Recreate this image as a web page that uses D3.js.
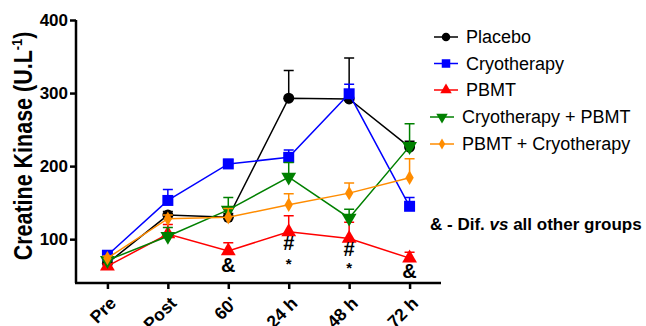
<!DOCTYPE html>
<html>
<head>
<meta charset="utf-8">
<script src="https://cdn.jsdelivr.net/npm/d3@7"></script>
<style>
  body { margin: 0; background: #fff; }
  svg { font-family: "Liberation Sans", Arial, sans-serif; }
</style>
</head>
<body>
<div id="chart"></div>
<script>
// time points
var categories = ["Pre", "Post", "60'", "24 h", "48 h", "72 h"];
var yTicks = [100, 200, 300, 400];

// group means (U.L-1)
var placebo = [67, 133, 130, 293, 292, 226];
var cryotherapy = [78, 153, 203, 212, 299, 145];
var pbmt = [63, 107, 84, 110, 101, 74];
var cryoPbmt = [71, 104, 140, 185, 129, 227];
var pbmtCryo = [74, 128, 130, 147, 163, 184];

// upper error bars
var placeboErr = [3, 5, 5, 38, 56, 8];
var cryotherapyErr = [2, 15, 6, 10, 13, 12];
var pbmtErr = [3, 13, 11, 22, 22, 8];
var cryoPbmtErr = [3, 12, 17, 20, 12, 31];
var pbmtCryoErr = [3, 5, 12, 15, 14, 26];

var seriesNames = ["Placebo", "Cryotherapy", "PBMT", "Cryotherapy + PBMT", "PBMT + Cryotherapy"];

// significance marks under the PBMT line
var marks = [
  { cat: "60'", text: "&", dy: 16, size: 20 },
  { cat: "24 h", text: "#", dy: 13, size: 20 },
  { cat: "24 h", text: "*", dy: 33, size: 15 },
  { cat: "48 h", text: "#", dy: 12, size: 20 },
  { cat: "48 h", text: "*", dy: 31, size: 15 },
  { cat: "72 h", text: "&", dy: 15, size: 20 }
];

var series = [
  { name: seriesNames[0], values: placebo, err: placeboErr, color: "#000000", symbol: d3.symbolCircle, size: 95, rot: 0 },
  { name: seriesNames[1], values: cryotherapy, err: cryotherapyErr, color: "#0000ff", symbol: d3.symbolSquare, size: 121, rot: 0 },
  { name: seriesNames[2], values: pbmt, err: pbmtErr, color: "#ff0000", symbol: d3.symbolTriangle, size: 95, rot: 0 },
  { name: seriesNames[3], values: cryoPbmt, err: cryoPbmtErr, color: "#008000", symbol: d3.symbolTriangle, size: 95, rot: 180 },
  { name: seriesNames[4], values: pbmtCryo, err: pbmtCryoErr, color: "#ff8c00", symbol: d3.symbolDiamond, size: 60, rot: 0 }
];

var width = 646, height = 326;

var svg = d3.select("#chart")
  .append("svg")
  .attr("width", width)
  .attr("height", height);

var x = d3.scalePoint()
  .domain(categories)
  .range([76, 441])
  .padding(0.52);

var y = d3.scaleLinear()
  .domain([40, 400])
  .range([283, 20]);

// Y axis
var yAxis = svg.append("g")
  .attr("transform", "translate(76,0)")
  .call(d3.axisLeft(y).tickValues(yTicks).tickSize(6).tickSizeOuter(0));
yAxis.select(".domain").attr("stroke-width", 2.5).attr("d", "M0," + y(400) + "V" + y(40));
yAxis.selectAll(".tick line").attr("stroke-width", 2.5);
yAxis.selectAll(".tick text")
  .attr("font-size", 17)
  .attr("font-weight", "bold")
  .attr("font-family", "Liberation Sans, Arial, sans-serif")
  .attr("x", -8);

// X axis
var xAxis = svg.append("g")
  .attr("transform", "translate(0,283)")
  .call(d3.axisBottom(x).tickSize(6).tickSizeOuter(0));
xAxis.select(".domain").attr("stroke-width", 2.5).attr("d", "M75,0H441");
xAxis.selectAll(".tick line").attr("stroke-width", 2.5);
xAxis.selectAll(".tick text")
  .attr("font-size", 17.5)
  .attr("font-weight", "bold")
  .attr("font-family", "Liberation Sans, Arial, sans-serif")
  .attr("text-anchor", "end")
  .attr("x", 0)
  .attr("y", 0)
  .attr("dy", "0.35em")
  .attr("transform", "translate(5,17) rotate(-45)");

// Y label (glyphs look squeezed along the text in the original)
var ylab = svg.append("text")
  .attr("transform", "translate(32,146) rotate(-90) scale(0.86,1)")
  .attr("text-anchor", "middle")
  .attr("font-size", 25)
  .attr("font-weight", "bold");
ylab.append("tspan").text("Creatine Kinase (U.L");
ylab.append("tspan").attr("font-size", 15).attr("dy", -10).text("-1");
ylab.append("tspan").attr("dy", 10).text(")");

// lines, error bars, markers
var line = d3.line()
  .x(function(d, i) { return x(categories[i]); })
  .y(function(d) { return y(d); });

series.forEach(function(s) {
  var g = svg.append("g");

  g.selectAll(".err")
    .data(s.values)
    .enter()
    .append("path")
      .attr("fill", "none")
      .attr("stroke", s.color)
      .attr("stroke-width", 1.5)
      .attr("d", function(d, i) {
        var cx = x(categories[i]);
        var top = y(d + s.err[i]);
        return "M" + cx + "," + y(d) + "V" + top + "M" + (cx - 5) + "," + top + "H" + (cx + 5);
      });

  g.append("path")
    .datum(s.values)
    .attr("fill", "none")
    .attr("stroke", s.color)
    .attr("stroke-width", 1.5)
    .attr("d", line);

  g.selectAll(".pt")
    .data(s.values)
    .enter()
    .append("path")
      .attr("d", d3.symbol().type(s.symbol).size(s.size))
      .attr("fill", s.color)
      .attr("transform", function(d, i) {
        return "translate(" + x(categories[i]) + "," + y(d) + ") rotate(" + s.rot + ")";
      });
});

// significance marks
svg.selectAll(".mark")
  .data(marks)
  .enter()
  .append("text")
    .attr("x", function(d) { return x(d.cat); })
    .attr("y", function(d) { return y(pbmt[categories.indexOf(d.cat)]) + d.dy; })
    .attr("text-anchor", "middle")
    .attr("font-size", function(d) { return d.size; })
    .attr("font-weight", "bold")
    .attr("dominant-baseline", "middle")
    .text(function(d) { return d.text; });

// legend
var legend = svg.append("g");
var legendY = [37, 63.5, 90, 117, 144];
var legendX = [466, 466, 466, 462, 462];

series.forEach(function(s, i) {
  var lx = legendX[i];
  legend.append("line")
    .attr("x1", lx - 32).attr("x2", lx - 8)
    .attr("y1", legendY[i]).attr("y2", legendY[i])
    .attr("stroke", s.color)
    .attr("stroke-width", 1.5);
  legend.append("path")
    .attr("d", d3.symbol().type(s.symbol).size(s.size * 0.6))
    .attr("fill", s.color)
    .attr("transform", "translate(" + (lx - 20) + "," + legendY[i] + ") rotate(" + s.rot + ")");
  legend.append("text")
    .attr("x", lx)
    .attr("y", legendY[i])
    .attr("dominant-baseline", "central")
    .attr("font-size", 18)
    .text(s.name);
});

// note
var note = svg.append("text")
  .attr("x", 430)
  .attr("y", 224)
  .attr("dominant-baseline", "central")
  .attr("font-size", 17)
  .attr("font-weight", "bold");
note.append("tspan").text("& - Dif. ");
note.append("tspan").attr("font-style", "italic").text("vs");
note.append("tspan").text(" all other groups");
</script>
</body>
</html>
